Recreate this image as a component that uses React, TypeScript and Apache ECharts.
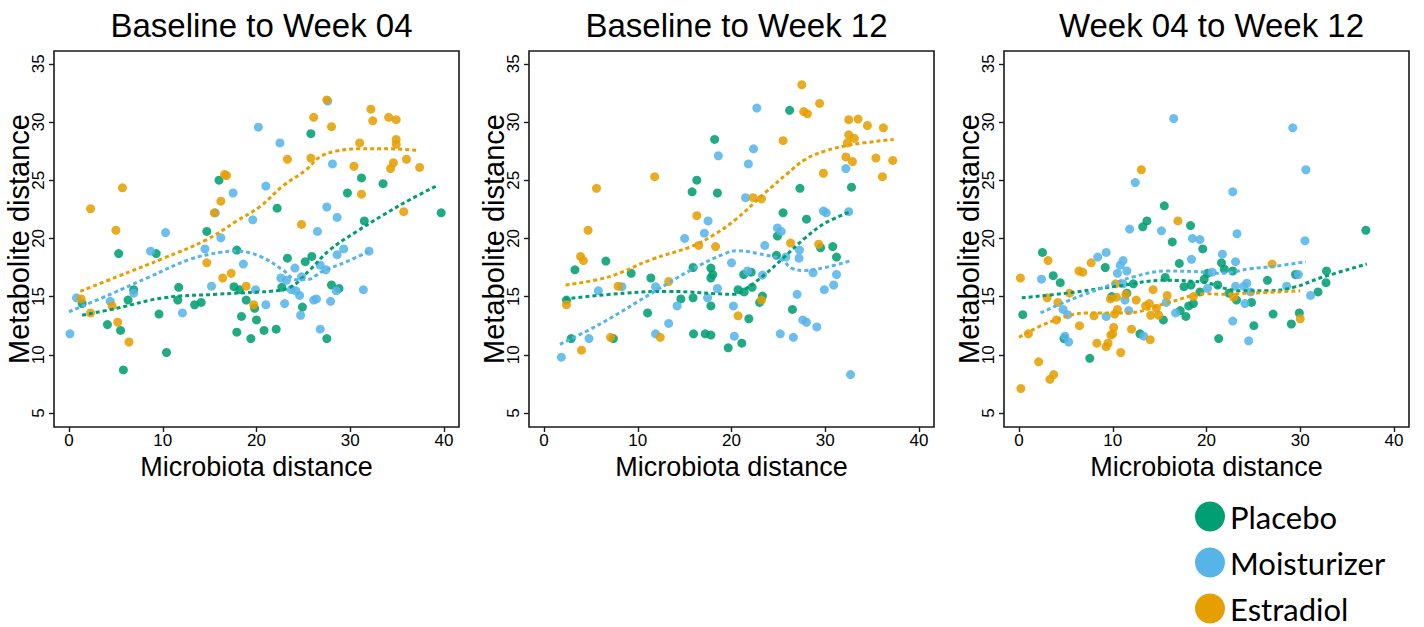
import React, { useEffect, useRef } from "react";
import * as echarts from "echarts";

type Pt = [number, number];

const panelTitles = ["Baseline to Week 04", "Baseline to Week 12", "Week 04 to Week 12"];
const groups = ["Placebo", "Moisturizer", "Estradiol"];
const groupColors = ["#009E73", "#56B4E9", "#E69F00"];
const xTicks = [0, 10, 20, 30, 40];
const yTicks = [5, 10, 15, 20, 25, 30, 35];
const xTitle = "Microbiota distance";
const yTitle = "Metabolite distance";

// ---- Baseline to Week 04 ----
const b04Placebo: Pt[] = [
  [16.0, 25.0], [14.7, 20.6], [5.3, 18.7], [9.3, 18.7], [17.9, 19.0], [11.7, 15.8], [6.9, 15.6], [17.6, 15.85],
  [18.2, 15.6], [6.3, 14.7], [1.4, 14.4], [11.6, 14.7], [13.4, 14.3], [14.1, 14.5], [18.9, 14.7], [19.8, 14.0],
  [9.6, 13.5], [18.4, 13.3], [20.0, 13.0], [4.1, 12.6], [5.5, 12.1], [17.9, 11.95], [19.4, 11.4], [10.4, 10.2],
  [5.8, 8.7], [25.8, 29.0], [31.2, 25.2], [33.5, 24.7], [29.7, 23.9], [22.2, 22.6], [31.5, 21.5], [23.3, 18.3],
  [25.2, 18.0], [25.9, 18.45], [22.7, 15.8], [28.0, 16.0], [28.8, 15.7], [24.9, 14.1], [20.8, 12.1], [22.1, 12.2],
  [27.5, 11.4], [39.7, 22.2],
];
const b04Moisturizer: Pt[] = [
  [20.2, 29.56], [17.5, 23.9], [15.6, 22.2], [19.6, 21.6], [16.2, 20.05], [10.3, 20.5], [8.7, 18.9], [14.5, 19.1],
  [18.6, 17.8], [6.9, 15.3], [15.2, 15.9], [19.9, 15.6], [0.8, 14.9], [4.4, 14.6], [12.1, 13.6], [0.1, 11.8],
  [27.6, 31.8], [22.5, 28.2], [28.1, 26.4], [21.0, 24.5], [27.5, 22.7], [28.6, 21.8], [26.5, 20.6], [29.3, 19.1],
  [28.6, 18.6], [32.0, 18.9], [24.1, 17.45], [26.8, 17.7], [27.4, 17.3], [22.6, 16.6], [23.2, 16.4], [24.8, 16.7],
  [23.7, 15.6], [24.2, 15.5], [24.6, 15.1], [28.5, 15.5], [31.4, 15.6], [21.0, 14.3], [23.0, 14.4], [26.1, 14.7],
  [26.4, 14.8], [27.9, 14.6], [24.7, 13.4], [26.8, 12.2],
];
const b04Estradiol: Pt[] = [
  [5.7, 24.35], [2.3, 22.55], [16.6, 25.5], [16.8, 25.4], [16.2, 23.2], [15.5, 22.2], [5.0, 20.7], [14.7, 17.9],
  [16.4, 16.6], [17.3, 17.0], [18.9, 15.9], [1.3, 14.8], [4.6, 14.2], [2.3, 13.6], [5.2, 12.8], [19.7, 14.3],
  [6.4, 11.1], [27.5, 31.9], [32.2, 31.1], [26.1, 30.4], [32.4, 30.1], [34.1, 30.4], [34.9, 30.2], [28.0, 29.6],
  [31.0, 28.2], [34.9, 28.5], [34.9, 28.1], [23.3, 26.8], [25.8, 26.9], [30.4, 26.2], [34.6, 26.5], [34.3, 26.0],
  [36.0, 26.8], [37.4, 26.1], [31.2, 23.8], [35.7, 22.3], [24.8, 21.2],
];
const b04PlaceboFit: Pt[] = [
  [1.4, 13.4], [5.1, 14.0], [10.1, 14.9], [15.7, 15.2], [20.4, 15.4], [21.4, 15.45], [23.6, 15.8], [25.7, 17.3],
  [27.8, 19.0], [30.7, 20.6], [33.5, 22.0], [36.3, 23.3], [39.4, 24.6],
];
const b04MoisturizerFit: Pt[] = [
  [0.0, 13.7], [4.4, 15.2], [8.6, 16.7], [12.9, 18.2], [16.1, 18.8], [17.9, 18.9], [20.4, 18.45], [22.8, 17.3],
  [24.3, 16.45], [25.3, 16.45], [27.1, 17.2], [29.6, 18.0], [32.0, 18.9],
];
const b04EstradiolFit: Pt[] = [
  [1.2, 15.45], [5.1, 16.7], [10.1, 18.3], [14.7, 19.9], [17.9, 21.5], [20.4, 22.75], [22.8, 24.5], [25.3, 25.9],
  [26.75, 27.0], [28.5, 27.5], [31.0, 27.7], [34.2, 27.7], [37.3, 27.55],
];

// ---- Baseline to Week 12 ----
const b12Placebo: Pt[] = [
  [18.2, 28.5], [16.3, 25.0], [15.8, 24.0], [18.5, 23.9], [3.3, 17.3], [6.6, 18.05], [9.3, 17.0], [11.4, 16.6],
  [15.9, 17.5], [17.8, 17.45], [18.0, 16.9], [17.8, 16.6], [2.4, 14.7], [14.6, 14.8], [15.9, 14.9], [17.8, 14.2],
  [11.05, 13.6], [2.9, 11.4], [7.4, 11.4], [15.95, 11.8], [17.2, 11.8], [17.8, 11.7], [19.65, 10.6], [26.2, 31.0],
  [27.3, 24.3], [32.8, 24.4], [25.5, 22.2], [28.0, 21.65], [24.9, 20.2], [29.5, 19.2], [30.8, 19.3], [31.2, 18.4],
  [24.8, 18.55], [21.3, 16.9], [22.1, 17.1], [20.7, 15.6], [21.35, 15.4], [22.2, 15.8], [23.3, 15.05], [23.0, 14.5],
  [21.85, 13.1], [26.5, 13.9], [21.1, 11.0],
];
const b12Moisturizer: Pt[] = [
  [18.6, 27.1], [17.5, 21.5], [17.1, 20.45], [15.0, 20.0], [20.0, 17.9], [5.8, 15.5], [8.3, 15.85], [11.9, 15.85],
  [18.5, 15.7], [17.45, 14.9], [14.2, 14.2], [13.3, 12.7], [11.9, 11.8], [20.2, 14.2], [20.3, 11.6], [4.8, 11.4],
  [1.85, 9.8], [22.7, 31.2], [22.35, 27.7], [21.8, 26.4], [21.5, 23.5], [32.2, 26.0], [29.8, 22.35], [30.1, 22.2],
  [32.5, 22.3], [24.9, 20.9], [25.3, 20.6], [23.55, 19.4], [27.25, 19.0], [27.2, 18.3], [25.8, 18.4], [21.7, 17.2],
  [23.3, 16.85], [28.7, 17.05], [31.2, 16.9], [30.9, 16.0], [29.9, 15.6], [27.0, 15.2], [27.6, 13.0], [28.0, 12.8],
  [29.1, 12.4], [25.2, 11.8], [26.6, 11.5], [32.7, 8.3],
];
const b12Estradiol: Pt[] = [
  [5.6, 24.3], [11.8, 25.3], [4.7, 20.7], [16.3, 21.95], [16.5, 19.4], [18.3, 19.3], [3.9, 18.45], [4.2, 18.1],
  [7.9, 15.9], [13.3, 16.3], [2.4, 14.3], [7.1, 11.5], [12.4, 11.5], [4.0, 10.4], [27.5, 33.2], [29.4, 31.6],
  [27.7, 30.9], [28.1, 30.7], [32.5, 30.2], [33.5, 30.25], [34.5, 29.7], [36.2, 29.5], [25.5, 28.4], [32.5, 28.9],
  [33.1, 28.6], [32.35, 28.2], [32.2, 27.0], [32.9, 26.6], [35.4, 26.9], [37.2, 26.7], [29.8, 25.6], [36.1, 25.3],
  [22.3, 23.5], [23.2, 23.4], [26.3, 19.6], [29.3, 19.5], [23.2, 14.7], [20.7, 13.35],
];
const b12PlaceboFit: Pt[] = [
  [2.2, 14.8], [8.6, 15.3], [13.3, 15.45], [20.4, 15.2], [21.4, 15.6], [23.55, 16.9], [25.7, 18.45], [27.8, 20.0],
  [29.95, 21.3], [32.7, 22.3],
];
const b12MoisturizerFit: Pt[] = [
  [1.7, 10.9], [6.1, 12.7], [11.5, 15.3], [15.7, 17.3], [19.3, 18.7], [20.6, 18.95], [22.8, 18.7], [25.3, 18.2],
  [26.4, 17.45], [27.8, 17.25], [29.95, 17.5], [32.8, 18.1],
];
const b12EstradiolFit: Pt[] = [
  [2.3, 16.0], [6.9, 16.7], [11.5, 18.2], [15.7, 19.3], [17.9, 20.2], [20.4, 21.6], [23.55, 23.9], [26.0, 25.6],
  [27.8, 26.75], [29.95, 27.5], [32.8, 28.05], [37.3, 28.5],
];

// ---- Week 04 to Week 12 ----
const w412Placebo: Pt[] = [
  [15.5, 22.8], [13.65, 21.5], [13.2, 21.0], [18.3, 21.1], [16.35, 19.7], [19.6, 19.1], [2.5, 18.8], [3.65, 16.8],
  [4.4, 16.2], [9.2, 17.5], [17.1, 17.85], [15.6, 16.65], [12.2, 16.1], [11.5, 15.3], [17.6, 15.85], [18.35, 16.0],
  [9.9, 15.0], [20.1, 17.0], [19.75, 16.5], [19.3, 15.4], [18.6, 14.4], [18.1, 14.2], [17.2, 13.8], [17.8, 13.3],
  [15.4, 13.0], [0.4, 13.45], [4.8, 11.4], [12.9, 11.8], [7.55, 9.7], [37.0, 20.7], [21.6, 17.9], [21.9, 17.35],
  [22.8, 17.2], [21.2, 16.0], [22.4, 15.3], [26.5, 16.4], [29.5, 16.9], [32.8, 17.2], [32.75, 16.2], [31.9, 15.4],
  [23.2, 14.7], [24.8, 14.5], [27.1, 13.5], [29.9, 13.6], [29.05, 12.65], [25.05, 12.5], [21.3, 11.4],
];
const w412Moisturizer: Pt[] = [
  [16.5, 30.3], [12.4, 24.8], [11.8, 20.8], [15.2, 20.65], [18.5, 20.0], [19.3, 19.9], [18.4, 18.2], [9.3, 18.8],
  [8.4, 18.4], [11.1, 18.1], [10.8, 17.7], [10.5, 17.0], [11.5, 17.2], [2.4, 16.5], [11.1, 16.1], [11.3, 14.7],
  [11.7, 13.8], [9.3, 13.3], [15.7, 14.5], [16.7, 13.6], [4.7, 13.9], [5.2, 13.45], [4.9, 11.6], [5.3, 11.1],
  [13.3, 11.6], [20.1, 15.7], [29.2, 29.5], [30.6, 25.9], [22.8, 24.0], [23.25, 20.4], [30.5, 19.8], [21.7, 18.65],
  [23.1, 18.0], [29.8, 16.9], [31.1, 15.1], [28.55, 15.9], [20.6, 17.1], [23.1, 15.9], [24.0, 15.9], [24.3, 16.15],
  [24.7, 15.4], [24.1, 14.4], [22.8, 12.9], [24.5, 11.2],
];
const w412Estradiol: Pt[] = [
  [13.05, 25.9], [16.95, 21.5], [3.1, 18.1], [7.7, 17.9], [6.4, 17.2], [6.8, 17.1], [0.15, 16.6], [5.4, 15.3],
  [10.3, 16.1], [14.3, 15.6], [3.0, 14.9], [9.75, 14.8], [10.4, 14.95], [11.4, 15.2], [12.5, 14.7], [15.8, 15.1],
  [4.15, 14.5], [13.5, 14.2], [13.9, 14.4], [14.65, 14.0], [10.5, 13.9], [8.0, 13.35], [10.2, 13.5], [14.05, 13.4],
  [14.9, 13.4], [4.0, 13.0], [18.6, 15.0], [6.45, 12.5], [10.1, 12.35], [12.0, 12.2], [10.0, 11.8], [9.8, 11.7],
  [14.0, 11.3], [1.0, 11.8], [8.3, 11.0], [9.5, 11.0], [9.3, 10.7], [10.85, 10.2], [2.1, 9.4], [3.7, 8.3],
  [3.3, 7.9], [0.2, 7.1], [27.0, 17.8], [22.9, 14.95], [30.0, 13.1],
];
const w412PlaceboFit: Pt[] = [
  [0.3, 14.9], [5.1, 15.3], [10.5, 15.9], [15.4, 16.4], [20.0, 16.2], [21.5, 15.8], [23.6, 15.5], [26.5, 15.5],
  [29.3, 15.8], [32.1, 16.6], [37.1, 17.8],
];
const w412MoisturizerFit: Pt[] = [
  [2.3, 13.6], [5.1, 14.6], [8.7, 15.7], [12.2, 16.7], [15.8, 17.2], [20.0, 17.1], [21.5, 17.0], [24.7, 17.4],
  [27.2, 17.6], [30.6, 18.0],
];
const w412EstradiolFit: Pt[] = [
  [0.0, 11.5], [3.4, 12.85], [7.3, 13.6], [11.5, 13.6], [15.8, 14.45], [20.0, 15.25], [21.5, 15.2], [24.7, 15.3],
  [30.0, 15.5],
];

const panelPoints: Pt[][][] = [
  [b04Placebo, b04Moisturizer, b04Estradiol],
  [b12Placebo, b12Moisturizer, b12Estradiol],
  [w412Placebo, w412Moisturizer, w412Estradiol],
];
const panelFits: Pt[][][] = [
  [b04PlaceboFit, b04MoisturizerFit, b04EstradiolFit],
  [b12PlaceboFit, b12MoisturizerFit, b12EstradiolFit],
  [w412PlaceboFit, w412MoisturizerFit, w412EstradiolFit],
];

const FONT = "'Liberation Sans', Arial, Helvetica, sans-serif";
const GRID_LEFT0 = 54;
const GRID_STEP = 475;
const GRID_W = 405;
const GRID_TOP = 51;
const GRID_H = 376;
const BOX = "#1a1a1a";

function buildOption(): echarts.EChartsOption {
  const grid: any[] = [];
  const xAxis: any[] = [];
  const yAxis: any[] = [];
  const title: any[] = [];
  const series: any[] = [];
  panelTitles.forEach((t, i) => {
    const left = GRID_LEFT0 + GRID_STEP * i;
    grid.push({
      left, top: GRID_TOP, width: GRID_W, height: GRID_H,
      show: true, borderColor: BOX, borderWidth: 1.6, backgroundColor: "#fff",
    });
    title.push({
      text: t, left: left + GRID_W / 2, textAlign: "center", top: 4,
      textStyle: { fontSize: 33, fontWeight: "normal", fontFamily: FONT, color: "#000" },
    });
    xAxis.push({
      type: "value", gridIndex: i, min: -1.6, max: 41.6,
      axisLine: { show: false, onZero: false },
      axisTick: { show: true, length: 5, customValues: xTicks, lineStyle: { color: BOX, width: 1.4 } },
      axisLabel: { customValues: xTicks, fontSize: 17, margin: 5, color: "#000", fontFamily: FONT },
      splitLine: { show: false },
      name: xTitle, nameLocation: "middle", nameGap: 25,
      nameTextStyle: { fontSize: 27, color: "#000", fontFamily: FONT },
    });
    yAxis.push({
      type: "value", gridIndex: i, min: 3.8, max: 36.1,
      axisLine: { show: false, onZero: false },
      axisTick: { show: true, length: 5, customValues: yTicks, lineStyle: { color: BOX, width: 1.4 } },
      axisLabel: { customValues: yTicks, fontSize: 17, margin: 7, rotate: 90, color: "#000", fontFamily: FONT },
      splitLine: { show: false },
      name: yTitle, nameLocation: "middle", nameGap: 21, nameMoveOverlap: false,
      nameTextStyle: { fontSize: 29, color: "#000", fontFamily: FONT },
    });
  });
  panelPoints.forEach((pts, i) => {
    pts.forEach((data, g) => {
      series.push({
        type: "scatter", name: groups[g], xAxisIndex: i, yAxisIndex: i, data,
        symbol: "circle", symbolSize: 9, z: 2,
        itemStyle: { color: groupColors[g], opacity: 0.87 },
      });
    });
  });
  panelFits.forEach((fits, i) => {
    fits.forEach((data, g) => {
      series.push({
        type: "line", name: groups[g], xAxisIndex: i, yAxisIndex: i, data,
        smooth: 0.4, showSymbol: false, symbol: "none", z: 3, silent: true,
        lineStyle: { color: groupColors[g], width: 3, type: [4, 3] },
      });
    });
  });
  return {
    animation: false,
    backgroundColor: "#fff",
    title,
    grid,
    xAxis,
    yAxis,
    legend: {
      orient: "vertical", left: 1195, top: 501, padding: 0, height: 124,
      itemWidth: 30, itemHeight: 30, itemGap: 15, icon: "circle",
      selectedMode: false,
      data: groups.map((n, g) => ({ name: n, itemStyle: { color: groupColors[g], opacity: 1 } })),
      textStyle: { fontSize: 31, lineHeight: 30, fontFamily: "Lato, 'Noto Sans', sans-serif", color: "#000" },
    },
    series,
  };
}

export default function App() {
  const ref = useRef<HTMLDivElement>(null);
  useEffect(() => {
    document.body.style.margin = "0";
    if (!ref.current) return;
    const chart = echarts.init(ref.current, undefined, { renderer: "svg" });
    chart.setOption(buildOption());
    return () => chart.dispose();
  }, []);
  return <div ref={ref} style={{ width: 1424, height: 627 }} />;
}
